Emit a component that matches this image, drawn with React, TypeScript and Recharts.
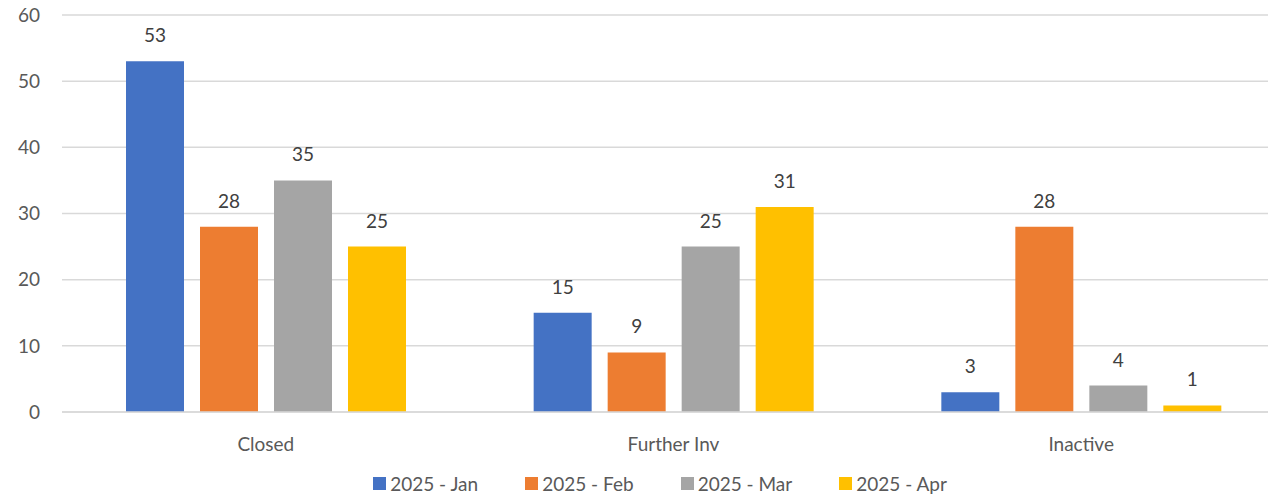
import React from 'react';
import { BarChart, Bar, XAxis, YAxis, CartesianGrid, Legend, LabelList } from 'recharts';

const categories = ['Closed', 'Further Inv', 'Inactive'];
const jan = [53, 15, 3];
const feb = [28, 9, 28];
const mar = [35, 25, 4];
const apr = [25, 31, 1];
const yTicks = [0, 10, 20, 30, 40, 50, 60];

const SERIES = [
  { key: 'jan', name: '2025 - Jan', color: '#4472C4', values: jan },
  { key: 'feb', name: '2025 - Feb', color: '#ED7D31', values: feb },
  { key: 'mar', name: '2025 - Mar', color: '#A5A5A5', values: mar },
  { key: 'apr', name: '2025 - Apr', color: '#FFC000', values: apr },
];

const data = categories.map((name, i) => {
  const row: Record<string, string | number> = { name };
  SERIES.forEach((s) => {
    row[s.key] = s.values[i];
  });
  return row;
});

const FONT = 'Lato, "Open Sans", sans-serif';

// legend drawn in series order, Excel style
const renderLegend = () => (
  <div style={{ display: 'flex', justifyContent: 'center', gap: 47, fontFamily: FONT, fontSize: 19, color: '#595959' }}>
    {SERIES.map((s) => (
      <div key={s.key} style={{ display: 'flex', alignItems: 'center' }}>
        <span style={{ display: 'inline-block', width: 13, height: 13, background: s.color, marginRight: 4 }} />
        <span>{s.name}</span>
      </div>
    ))}
  </div>
);

export default function App() {
  return (
    <div style={{ position: 'absolute', left: 0, top: 0, width: 1268, height: 496, overflow: 'hidden', background: '#fff', fontFamily: FONT }}>
      <BarChart
        width={1285}
        height={496}
        data={data}
        margin={{ top: 15, right: 0, left: 0, bottom: 0 }}
        barCategoryGap={64}
        barGap={16}
      >
        <CartesianGrid vertical={false} stroke="#d9d9d9" strokeWidth={1.5} />
        <XAxis
          dataKey="name"
          height={46}
          tickLine={false}
          axisLine={{ stroke: '#d9d9d9', strokeWidth: 1.5 }}
          tick={{ fill: '#595959', fontSize: 19, fontFamily: FONT }}
          tickMargin={20}
        />
        <YAxis
          width={62}
          domain={[0, 60]}
          ticks={yTicks}
          tickLine={false}
          axisLine={false}
          tickSize={0}
          tickMargin={22}
          tick={{ fill: '#595959', fontSize: 19, fontFamily: FONT }}
        />
        <Legend
          verticalAlign="bottom"
          height={38}
          content={renderLegend}
          wrapperStyle={{ left: 0, width: 1320, top: 472, bottom: 'auto' }}
        />
        {SERIES.map((s) => (
          <Bar key={s.key} dataKey={s.key} name={s.name} fill={s.color} barSize={58} isAnimationActive={false}>
            <LabelList dataKey={s.key} position="top" offset={19} fill="#404040" fontSize={19} fontFamily={FONT} />
          </Bar>
        ))}
      </BarChart>
    </div>
  );
}
